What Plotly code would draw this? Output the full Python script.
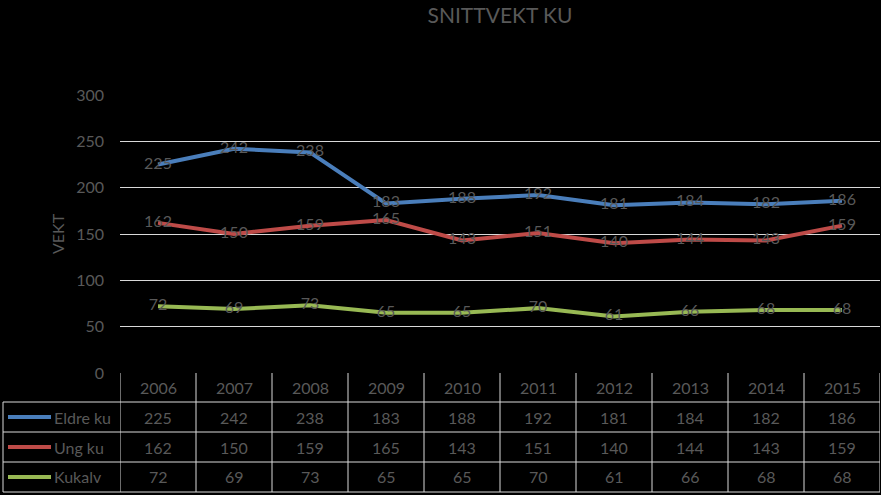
import plotly.graph_objects as go

years = ["2006", "2007", "2008", "2009", "2010", "2011", "2012", "2013", "2014", "2015"]
series_names = ["Eldre ku", "Ung ku", "Kukalv"]
eldre_ku = [225, 242, 238, 183, 188, 192, 181, 184, 182, 186]
ung_ku = [162, 150, 159, 165, 143, 151, 140, 144, 143, 159]
kukalv = [72, 69, 73, 65, 65, 70, 61, 66, 68, 68]
colors = ["#4A7EBB", "#BE4B48", "#98B954"]
y_ticks = [0, 50, 100, 150, 200, 250, 300]

W, H = 881, 495
L, R, T, B = 120, 1, 95, 122
PH = H - T - B
PW = W - L - R
FONT = "Lato"
TXT = "#595959"
GRID = "#D9D9D9"


def py(p):  # pixel y -> paper y
    return (H - B - p) / PH


def px(p):  # pixel x -> paper x
    return (p - L) / PW


fig = go.Figure()
all_series = [eldre_ku, ung_ku, kukalv]
for name, vals, col in zip(series_names, all_series, colors):
    fig.add_trace(go.Scatter(
        x=years, y=vals, name=name, mode="lines+text",
        line=dict(color=col, width=4),
        text=[str(v) for v in vals], textposition="middle center",
        textfont=dict(family=FONT, size=16, color=TXT),
        cliponaxis=False, showlegend=False,
    ))

shapes = []
annotations = []

# table horizontal lines
row_lines = [402, 432, 462, 492]
for p in row_lines:
    shapes.append(dict(type="line", xref="paper", yref="paper", x0=px(3), x1=1.0,
                       y0=py(p), y1=py(p), line=dict(color=GRID, width=1)))
# vertical dividers between year columns
for i in range(len(years) + 1):
    shapes.append(dict(type="line", xref="x", yref="paper", x0=i - 0.5, x1=i - 0.5,
                       y0=0, y1=py(492), line=dict(color=GRID, width=1)))
# left border of legend column
shapes.append(dict(type="line", xref="paper", yref="paper", x0=px(3), x1=px(3),
                   y0=py(402), y1=py(492), line=dict(color=GRID, width=1)))

row_centers = [387.5, 417, 447, 477]
for i, y_val in enumerate(years):
    annotations.append(dict(x=i, y=py(row_centers[0]), xref="x", yref="paper",
                            xanchor="center", yanchor="middle",
                            text=y_val, showarrow=False,
                            font=dict(family=FONT, size=16, color=TXT)))
for r, (name, vals, col) in enumerate(zip(series_names, all_series, colors)):
    yc = py(row_centers[r + 1])
    for i, v in enumerate(vals):
        annotations.append(dict(x=i, y=yc, xref="x", yref="paper", text=str(v),
                                xanchor="center", yanchor="middle",
                                showarrow=False, font=dict(family=FONT, size=16, color=TXT)))
    shapes.append(dict(type="line", xref="paper", yref="paper", x0=px(8), x1=px(51),
                       y0=yc, y1=yc, line=dict(color=col, width=4)))
    annotations.append(dict(x=px(52), y=yc, xref="paper", yref="paper", text=name,
                            xanchor="left", yanchor="middle", showarrow=False,
                            font=dict(family=FONT, size=16, color=TXT)))

# y-axis title
annotations.append(dict(x=px(57), y=py(234), xref="paper", yref="paper", text="VEKT",
                        xanchor="center", yanchor="middle",
                        textangle=-90, showarrow=False,
                        font=dict(family=FONT, size=16, color=TXT)))

fig.update_layout(
    width=W, height=H,
    margin=dict(l=L, r=R, t=T, b=B),
    paper_bgcolor="black", plot_bgcolor="black",
    title=dict(text="SNITTVEKT KU", x=0.5, xanchor="center", xref="paper",
               y=1 - 16 / H, yanchor="middle",
               font=dict(family=FONT, size=21, color=TXT)),
    xaxis=dict(type="category", range=[-0.5, 9.5], showticklabels=False,
               showgrid=False, zeroline=False, showline=False, ticks=""),
    yaxis=dict(range=[0, 300], tickvals=y_ticks, showgrid=True, gridcolor=GRID,
               gridwidth=1, zeroline=False, showline=False, ticks="",
               ticklabelstandoff=15,
               tickfont=dict(family=FONT, size=16, color=TXT)),
    shapes=shapes,
    annotations=annotations,
)

fig.write_html("out.html")
